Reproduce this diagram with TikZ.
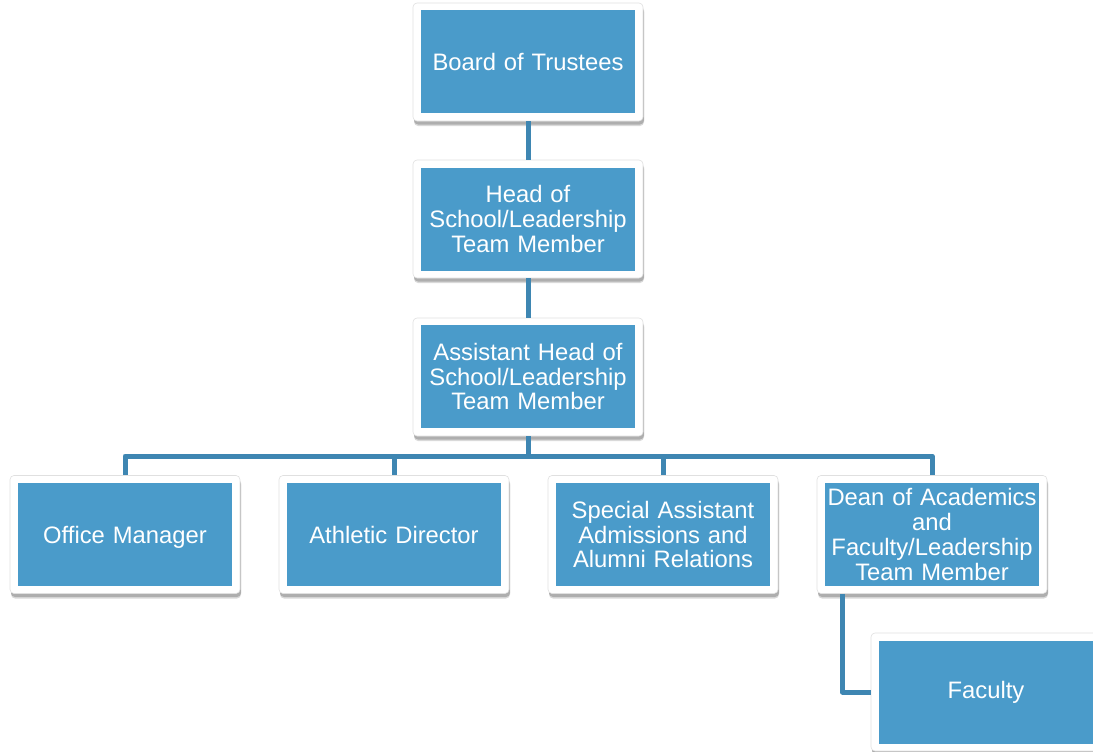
\documentclass[tikz,border=0pt]{standalone}
\usepackage{fontspec}
\setmainfont{Liberation Sans}
\usetikzlibrary{shadows}
\definecolor{boxblue}{HTML}{4A9BCA}
\definecolor{linkblue}{HTML}{3E86B2}
\tikzset{
  frame/.style={draw=black!12, line width=0.6pt, fill=white, rounded corners=4pt, minimum width=230pt, minimum height=118pt, inner sep=0pt,
    general shadow={shadow xshift=1pt, shadow yshift=-5pt, opacity=0.15, fill=black},
    general shadow={shadow xshift=1pt, shadow yshift=-3.5pt, opacity=0.2, fill=black}},
  inbox/.style={fill=boxblue, minimum width=214pt, minimum height=103pt, inner sep=0pt, text width=212pt, align=center,
    text=white, font=\fontsize{23.8}{24.8}\selectfont},
  link/.style={draw=linkblue, line width=5pt, line join=round}
}
\begin{document}
\begin{tikzpicture}[x=1pt,y=-1pt]
\useasboundingbox (0,0) rectangle (1093,752);
\node[frame] (bot) at (528,62) {};
\node[inbox] (botin) at (528,61.5) {Board of Trustees};
\node[frame] (head) at (528,219) {};
\node[inbox] (headin) at (528,219) {Head of\\School/Leadership\\Team Member};
\node[frame] (asst) at (528,377) {};
\node[inbox] (asstin) at (528,376.5) {Assistant Head of\\School/Leadership\\Team Member};
\node[frame] (om) at (125,534.5) {};
\node[inbox, text depth=0pt] (omin) at (125,534.5) {Office Manager};
\node[frame] (ad) at (394,534.5) {};
\node[inbox] (adin) at (394,534.5) {Athletic Director};
\node[frame] (sa) at (663,534.5) {};
\node[inbox] (sain) at (663,534.5) {Special Assistant\\Admissions and\\Alumni Relations};
\node[frame] (dean) at (932,534.5) {};
\node[inbox] (deanin) at (932,534.5) {Dean of Academics\\and\\Faculty/Leadership\\Team Member};
\node[frame] (fac) at (986,692) {};
\node[inbox] (facin) at (986,692) {Faculty};
\coordinate (bus) at (528,456);
\draw[link] (bot.south) -- (head.north);
\draw[link] (head.south) -- (asst.north);
\draw[link] (asst.south) -- (bus) -| (om.north);
\draw[link] (asst.south) -- (bus) -| (ad.north);
\draw[link] (asst.south) -- (bus) -| (sa.north);
\draw[link] (asst.south) -- (bus) -| (dean.north);
\draw[link] ([xshift=-89.5pt]dean.south) |- (fac.west);
\end{tikzpicture}
\end{document}
